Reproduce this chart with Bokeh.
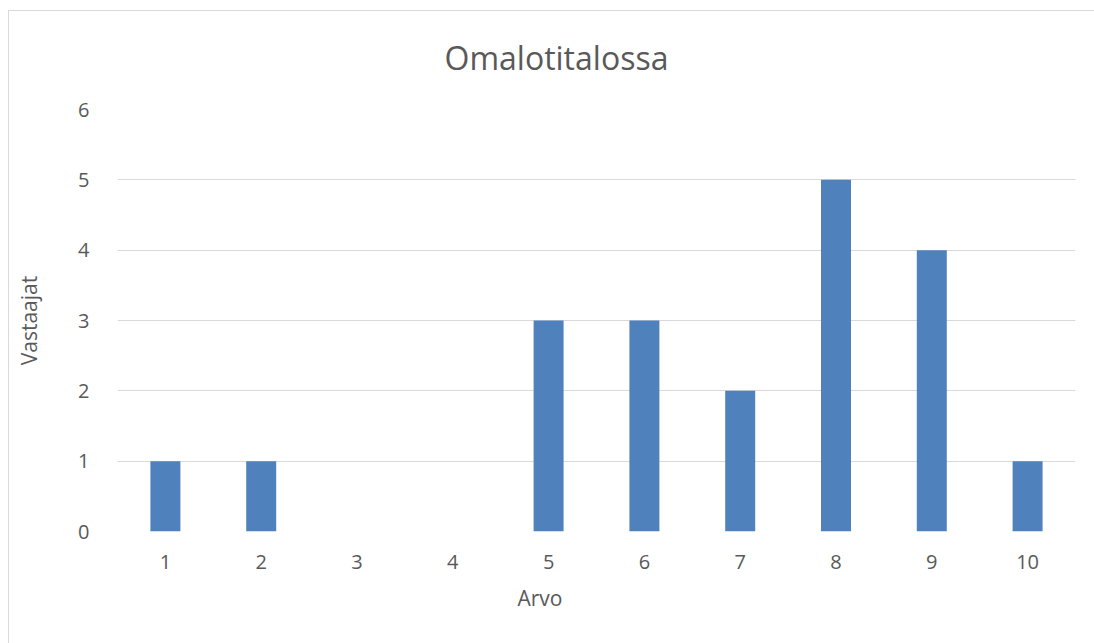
from bokeh.plotting import figure
from bokeh.models import Range1d, FixedTicker, Title
from bokeh.embed import file_html
from bokeh.resources import INLINE

# Survey answers: how many respondents gave each score
scores = [1, 2, 3, 4, 5, 6, 7, 8, 9, 10]
respondents = [1, 1, 0, 0, 3, 3, 2, 5, 4, 1]
y_ticks = [0, 1, 2, 3, 4, 5, 6]

TEXT = "#595959"
GRID = "#D9D9D9"
BAR = "#4F81BD"
FONT = "Open Sans"

W, H = 1094, 643
p = figure(
    width=W, height=H,
    output_backend="svg", toolbar_location=None,
    x_range=Range1d(0.5, 10.5), y_range=Range1d(0, 6),
    min_border_left=117, min_border_right=19,
    min_border_top=109, min_border_bottom=112,
    title="Omalotitalossa",
)
# thin chart-area border (left and top edges), drawn behind a transparent canvas
line = f"linear-gradient({GRID}, {GRID})"
p.styles = {
    "background-color": "white",
    "background-image": f"{line}, {line}",
    "background-size": "100% 1px, 1px 100%",
    "background-position": "8px 10px, 8px 10px",
    "background-repeat": "no-repeat",
}
p.border_fill_color = None
p.background_fill_color = "white"
p.outline_line_color = None

p.vbar(x=scores, top=respondents, width=0.313, fill_color=BAR, line_color=None)

# chart title, centred on the whole chart area rather than the plot frame
p.title.align = "left"
p.title.offset = 327
p.title.text_font = FONT
p.title.text_font_size = "32px"
p.title.text_font_style = "normal"
p.title.text_color = TEXT
p.title.standoff = 62

p.xgrid.grid_line_color = None
p.ygrid.grid_line_color = GRID
p.ygrid.grid_line_width = 1

p.xaxis.ticker = FixedTicker(ticks=scores)
p.xaxis.major_label_overrides = {s: str(s) for s in scores}
p.yaxis.ticker = FixedTicker(ticks=y_ticks)

for ax in (p.xaxis, p.yaxis):
    ax.axis_line_color = None
    ax.major_tick_line_color = None
    ax.minor_tick_line_color = None
    ax.major_label_text_font = FONT
    ax.major_label_text_font_size = "20px"
    ax.major_label_text_color = TEXT
    ax.axis_label_text_font = FONT
    ax.axis_label_text_font_size = "21px"
    ax.axis_label_text_font_style = "normal"
    ax.axis_label_text_color = TEXT

p.xaxis.major_label_standoff = 17
p.yaxis.major_label_standoff = 22
p.yaxis.axis_label = "Vastaajat"
p.yaxis.axis_label_standoff = 32

# x-axis title
arvo = Title(text="Arvo", align="left", offset=400, standoff=21,
             text_font=FONT, text_font_size="21px", text_font_style="normal",
             text_color=TEXT)
p.add_layout(arvo, "below")

open("out.html", "w").write(file_html(p, INLINE))
